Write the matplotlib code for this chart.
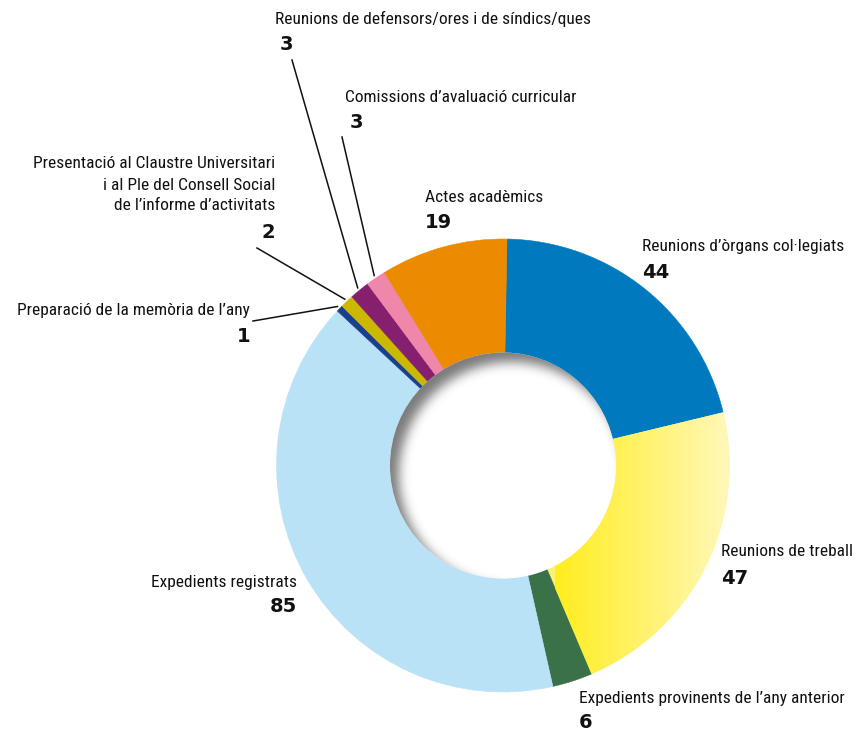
import math
import numpy as np
import matplotlib
matplotlib.use("Agg")
import matplotlib.pyplot as plt
from matplotlib.patches import Circle

# ---------------- data ----------------
categories = [
    "Reunions d’òrgans col·legiats",
    "Reunions de treball",
    "Expedients provinents de l’any anterior",
    "Expedients registrats",
    "Preparació de la memòria de l’any",
    "Presentació al Claustre Universitari\ni al Ple del Consell Social\nde l’informe d’activitats",
    "Reunions de defensors/ores i de síndics/ques",
    "Comissions d’avaluació curricular",
    "Actes acadèmics",
]
values = [44, 47, 6, 85, 1, 2, 3, 3, 19]
colors = ["#0079bf", "#fff176", "#3b7149", "#bae2f6", "#1b3f8f",
          "#cdb800", "#861f6e", "#ee87a9", "#ec8b00"]

# ---------------- layout (pixel coords, y down) ----------------
W, H = 856, 730
CX, CY = 503, 465.5
R_OUT = 226.5
R_IN = 113
# (x, y_label_center, ha, y_number_center, leader_start or None)
label_layout = [
    (642, 247, "left", 273, None),
    (721, 552, "left", 578, None),
    (579, 698, "left", 722, None),
    (297, 583, "right", 607, None),
    (250, 311, "right", 336, (253, 321)),
    (275, 185, "right", 232, (257, 248)),
    (275, 19, "left", 44, (292, 60)),
    (345, 98, "left", 122, (342, 137)),
    (425, 198, "left", 223, None),
]
num_dx = {6: 5, 7: 5}

LABEL_FONT = ["Liberation Sans Narrow", "Roboto Condensed", "Liberation Sans", "DejaVu Sans"]
NUM_FONT = ["DejaVu Sans"]


def py(y):
    return H - y


fig = plt.figure(figsize=(W / 100, H / 100), dpi=100)
ax = fig.add_axes([0, 0, 1, 1])

wedges, _ = ax.pie(values, colors=colors, startangle=89, counterclock=False,
                   radius=R_OUT, center=(CX, py(CY)),
                   wedgeprops=dict(width=R_OUT - R_IN, linewidth=0.4))
for w, c in zip(wedges, colors):
    w.set_edgecolor(c)

ax.set_xlim(0, W)
ax.set_ylim(0, H)
ax.set_aspect("equal")
ax.axis("off")

# gradient on "Reunions de treball"
yw = wedges[1]
yw.set_edgecolor("none")
grad_x = np.linspace(0, 1, 256)
c0 = np.array([255, 237, 30]) / 255
c1 = np.array([255, 248, 188]) / 255
img = (c0[None, :] * (1 - grad_x[:, None]) + c1[None, :] * grad_x[:, None])[None, :, :]
x0, x1 = 555, CX + R_OUT + 2
im = ax.imshow(img, extent=[x0, x1, py(CY + R_OUT + 2), py(CY - 90)], aspect="auto",
               interpolation="bilinear", zorder=1.5)
im.set_clip_path(yw)

# inner shadow in the hole
n = 400
xs = np.linspace(CX - R_IN, CX + R_IN, n)
ys = np.linspace(py(CY) - R_IN, py(CY) + R_IN, n)
XX, YY = np.meshgrid(xs, ys)
off = (9, -10)
sigma = 5.5
d = np.hypot(XX - (CX + off[0]), YY - (py(CY) + off[1]))
z = (d - R_IN) / (sigma * math.sqrt(2))
erf = np.vectorize(math.erf)
alpha = 0.52 * 0.5 * (1 + erf(z))
rgba = np.zeros((n, n, 4))
rgba[..., 3] = alpha
ax.add_patch(Circle((CX, py(CY)), R_IN, facecolor="white", edgecolor="none", zorder=2))
sh = ax.imshow(rgba, extent=[CX - R_IN, CX + R_IN, py(CY) - R_IN, py(CY) + R_IN],
               origin="lower", interpolation="bilinear", zorder=3)
clip = Circle((CX, py(CY)), R_IN, transform=ax.transData)
sh.set_clip_path(clip)

# labels, numbers, leader lines
for i, (cat, val, lay) in enumerate(zip(categories, values, label_layout)):
    x, yl, ha, yn, lead = lay
    ax.text(x, py(yl), cat, ha=ha, va="center", fontsize=12.5, family=LABEL_FONT,
            color="#111111", linespacing=1.5, zorder=5)
    ax.text(x + num_dx.get(i, 0), py(yn), str(val), ha=ha, va="center", fontsize=14,
            family=NUM_FONT, fontweight="bold", color="#111111", zorder=5)
    if lead is not None:
        w = wedges[i]
        mid = np.deg2rad((w.theta1 + w.theta2) / 2)
        ex = CX + (R_OUT + 3) * np.cos(mid)
        ey = py(CY) + (R_OUT + 3) * np.sin(mid)
        ax.plot([lead[0], ex], [py(lead[1]), ey], color="#111111", lw=1.1, zorder=5)

fig.savefig("out.png", dpi=100)
